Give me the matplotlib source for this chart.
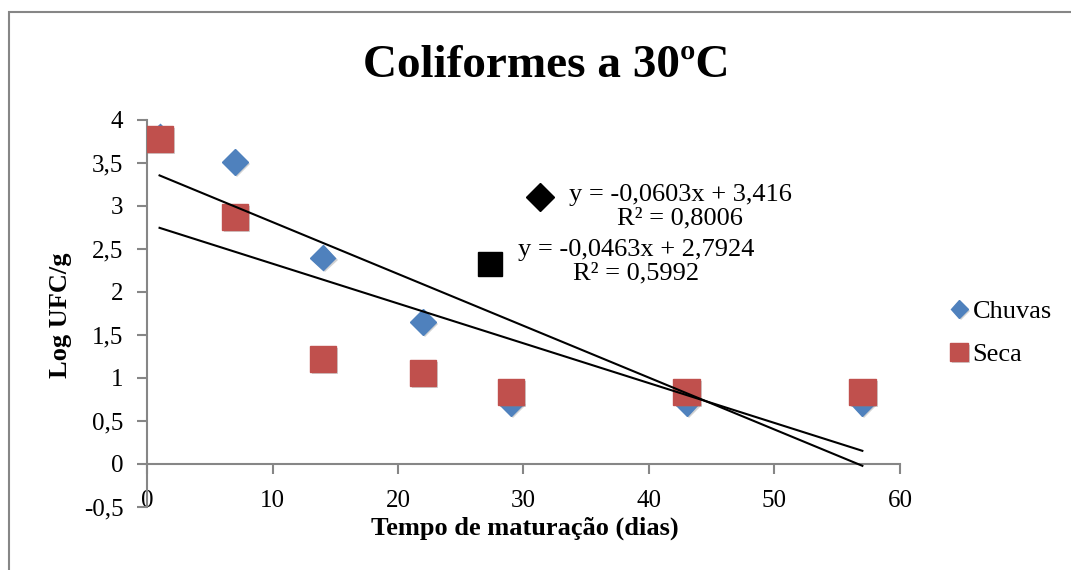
import numpy as np
import matplotlib
matplotlib.use("Agg")
import matplotlib.pyplot as plt
import matplotlib.patheffects as pe
from matplotlib.patches import Rectangle
from matplotlib.ticker import FixedLocator, FuncFormatter

plt.rcParams['font.family'] = ['Liberation Serif', 'DejaVu Serif']

# dados
dias = [1, 7, 14, 22, 29, 43, 57]
chuvas = [3.81, 3.51, 2.40, 1.65, 0.71, 0.71, 0.71]
seca = [3.78, 2.87, 1.22, 1.06, 0.84, 0.84, 0.84]

# linhas de tendencia (coeficientes mostrados no grafico)
coef_chuvas = (-0.0603, 3.416)
coef_seca = (-0.0463, 2.7924)
txt_chuvas = "y = -0,0603x + 3,416\nR² = 0,8006"
txt_seca = "y = -0,0463x + 2,7924\nR² = 0,5992"

azul = '#4F81BD'
vermelho = '#C0504D'
cinza = '#868686'

fig = plt.figure(figsize=(10.71, 5.70), dpi=100)
ax = fig.add_axes([147/1071, 1-507/570, 753/1071, 387/570])

sombra = [pe.SimplePatchShadow(offset=(1.5, -1.5), shadow_rgbFace='gray', alpha=0.35), pe.Normal()]

ax.plot(dias, chuvas, ls='none', marker='D', ms=13, color=azul, mec=azul,
        label='Chuvas', path_effects=sombra, zorder=3)
ax.plot(dias, seca, ls='none', marker='s', ms=19, color=vermelho, mec=vermelho,
        label='Seca', path_effects=sombra, zorder=4)

xt = np.array([min(dias), max(dias)])
ax.plot(xt, coef_chuvas[0]*xt + coef_chuvas[1], color='black', lw=1.5, zorder=5)
ax.plot(xt, coef_seca[0]*xt + coef_seca[1], color='black', lw=1.5, zorder=5)

# rotulos das linhas de tendencia
ax.plot([31.3], [3.10], marker='D', ms=14, color='black', ls='none', zorder=5)
ax.text(42.5, 2.99, txt_chuvas, ha='center', va='center', fontsize=19,
        multialignment='center', linespacing=1.1, zorder=6)
ax.plot([27.3], [2.33], marker='s', ms=17, color='black', ls='none', zorder=5)
ax.text(39.0, 2.35, txt_seca, ha='center', va='center', fontsize=19,
        multialignment='center', linespacing=1.1, zorder=6)

ax.set_xlim(0, 60)
ax.set_ylim(-0.5, 4)
ax.xaxis.set_major_locator(FixedLocator(range(0, 61, 10)))
ax.yaxis.set_major_locator(FixedLocator(np.arange(-0.5, 4.01, 0.5)))
ax.yaxis.set_major_formatter(FuncFormatter(lambda v, p: ('%g' % v).replace('.', ',')))

ax.spines['top'].set_visible(False)
ax.spines['right'].set_visible(False)
ax.spines['bottom'].set_position(('data', 0))
for s in ('left', 'bottom'):
    ax.spines[s].set_color(cinza)
    ax.spines[s].set_linewidth(1.5)
ax.tick_params(axis='both', colors=cinza, width=1.5, length=7, labelcolor='black', labelsize=18)
ax.tick_params(axis='x', pad=12)
ax.tick_params(axis='y', pad=10)

fig.text(546/1071, 1-77/570, 'Coliformes a 30ºC', ha='center', va='baseline',
         fontsize=34, fontweight='bold')
fig.text(525/1071, 1-528/570, 'Tempo de maturação (dias)', ha='center', va='center',
         fontsize=19, fontweight='bold')
fig.text(60/1071, 1-315/570, 'Log UFC/g', ha='center', va='center', rotation=90,
         fontsize=19, fontweight='bold')

fig.legend(loc='center left', bbox_to_anchor=(950/1071, 1-333/570), frameon=False,
           fontsize=19, markerscale=0.68, handlelength=0.7, handletextpad=0.15,
           labelspacing=0.75, borderpad=0, borderaxespad=0)

# moldura externa do grafico
fig.patches.append(Rectangle((9/1071, -0.1), 2, 1.1 - 12/570, transform=fig.transFigure,
                             fill=False, edgecolor=cinza, lw=1.5))

fig.savefig('out.png', dpi=100)
